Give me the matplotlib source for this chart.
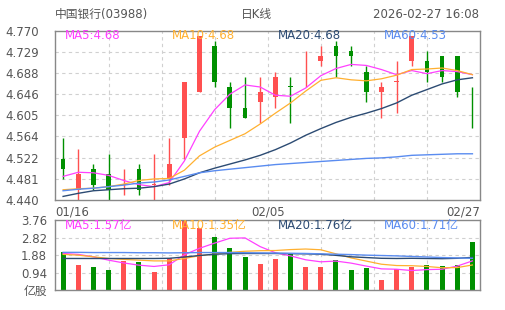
import numpy as np
import matplotlib
matplotlib.use("Agg")
import matplotlib.pyplot as plt

plt.rcParams['font.family'] = ['DejaVu Sans', 'Noto Sans CJK SC']

# 日K数据 (01/16 - 02/27)
opens = [4.52, 4.46, 4.50, 4.49, 4.47, 4.50, 4.47, 4.48, 4.56, 4.65, 4.74, 4.66, 4.62, 4.63,
         4.64, 4.66, 4.70, 4.71, 4.74, 4.73, 4.69, 4.65, 4.67, 4.71, 4.71, 4.72, 4.72, 4.64]
closes = [4.50, 4.49, 4.47, 4.46, 4.47, 4.46, 4.47, 4.51, 4.67, 4.76, 4.67, 4.62, 4.60, 4.65,
          4.68, 4.66, 4.70, 4.72, 4.72, 4.72, 4.65, 4.66, 4.67, 4.76, 4.69, 4.68, 4.65, 4.64]
highs = [4.56, 4.54, 4.51, 4.53, 4.50, 4.51, 4.53, 4.56, 4.67, 4.76, 4.75, 4.67, 4.68, 4.68,
         4.69, 4.68, 4.73, 4.74, 4.75, 4.74, 4.70, 4.67, 4.71, 4.76, 4.73, 4.72, 4.72, 4.66]
lows = [4.48, 4.44, 4.46, 4.44, 4.45, 4.45, 4.44, 4.47, 4.52, 4.65, 4.66, 4.58, 4.60, 4.59,
        4.62, 4.59, 4.66, 4.70, 4.68, 4.70, 4.63, 4.60, 4.61, 4.70, 4.67, 4.67, 4.64, 4.58]

ma5 = [4.486, 4.494, 4.493, 4.488, 4.478, 4.470, 4.466, 4.474, 4.516, 4.574, 4.616, 4.646, 4.664, 4.660,
       4.644, 4.642, 4.658, 4.682, 4.696, 4.704, 4.702, 4.694, 4.684, 4.692, 4.686, 4.692, 4.690, 4.684]
ma10 = [4.460, 4.462, 4.463, 4.466, 4.471, 4.478, 4.481, 4.482, 4.498, 4.526, 4.543, 4.556, 4.569, 4.588,
        4.609, 4.629, 4.652, 4.673, 4.678, 4.674, 4.672, 4.676, 4.683, 4.694, 4.695, 4.697, 4.692, 4.684]
ma20 = [4.447, 4.453, 4.458, 4.460, 4.462, 4.463, 4.466, 4.471, 4.481, 4.493, 4.502, 4.510, 4.518, 4.527,
        4.538, 4.551, 4.566, 4.579, 4.591, 4.601, 4.609, 4.618, 4.629, 4.644, 4.655, 4.666, 4.674, 4.678]
ma60 = [4.458, 4.461, 4.463, 4.466, 4.469, 4.473, 4.475, 4.479, 4.486, 4.493, 4.497, 4.500, 4.503, 4.506,
        4.509, 4.511, 4.513, 4.515, 4.517, 4.519, 4.521, 4.522, 4.524, 4.527, 4.528, 4.529, 4.530, 4.530]

# 成交量 (亿股)
volumes = [2.06, 1.34, 1.24, 1.08, 1.56, 1.50, 0.97, 1.70, 3.76, 3.33, 2.88, 2.28, 1.80, 1.42,
           1.67, 2.01, 1.25, 1.25, 1.63, 1.09, 1.21, 0.53, 1.15, 1.26, 1.36, 1.30, 1.36, 2.57]
vma5 = [1.97, 1.92, 1.79, 1.61, 1.46, 1.34, 1.27, 1.36, 1.90, 2.25, 2.53, 2.79, 2.81, 2.34,
        2.01, 1.84, 1.63, 1.52, 1.56, 1.45, 1.29, 1.14, 1.12, 1.05, 1.10, 1.12, 1.29, 1.57]
vma10 = [1.92, 1.88, 1.79, 1.70, 1.65, 1.61, 1.57, 1.57, 1.70, 1.85, 1.94, 2.03, 2.09, 2.12,
         2.13, 2.18, 2.21, 2.17, 1.95, 1.73, 1.56, 1.39, 1.32, 1.31, 1.27, 1.20, 1.21, 1.35]
vma20 = [1.70, 1.70, 1.70, 1.70, 1.70, 1.70, 1.70, 1.71, 1.78, 1.86, 1.93, 1.96, 1.97, 1.97,
         1.97, 1.96, 1.95, 1.93, 1.87, 1.79, 1.75, 1.71, 1.70, 1.71, 1.70, 1.69, 1.71, 1.76]
vma60 = [2.03, 2.03, 2.02, 2.02, 2.02, 2.01, 2.01, 2.00, 2.01, 2.02, 2.02, 2.02, 2.01, 2.00,
         1.99, 1.98, 1.97, 1.95, 1.93, 1.91, 1.88, 1.86, 1.84, 1.81, 1.78, 1.75, 1.73, 1.71]

price_ticks = [4.440, 4.481, 4.522, 4.564, 4.605, 4.646, 4.688, 4.729, 4.770]
vol_ticks = [0, 0.94, 1.88, 2.82, 3.76]
vol_tick_labels = ['亿股', '0.94', '1.88', '2.82', '3.76']
date_labels = ['01/16', '02/05', '02/27']

RED = '#ff5050'
GREEN = '#009000'
C_MA5 = '#ff40ff'
C_MA10 = '#ffb030'
C_MA20 = '#2c4b73'
C_MA60 = '#5a8cf0'
TXT = '#555555'

n = len(closes)
x = np.arange(n)
colors = []
for i in range(n):
    if closes[i] > opens[i]:
        colors.append(RED)
    elif closes[i] < opens[i]:
        colors.append(GREEN)
    else:
        prev = closes[i - 1] if i > 0 else opens[i]
        colors.append(RED if closes[i] >= prev else GREEN)

fig = plt.figure(figsize=(5.05, 3.10), dpi=100)
ax = fig.add_axes([0.1099, 0.3548, 0.8406, 0.5468])
axv = fig.add_axes([0.1099, 0.0645, 0.8406, 0.2249])

for a in (ax, axv):
    a.set_xlim(-0.5, n - 0.5)
    for s in a.spines.values():
        s.set_color('#888888')
        s.set_linewidth(1.0)
    a.tick_params(length=0, labelsize=8.5, colors=TXT)
    a.set_xticks([])
    # vertical dashed grid at eighths of the width
    for k in range(1, 8):
        a.axvline(-0.5 + n * k / 8, color='#d0d0d0', linewidth=0.8, linestyle=(0, (3, 3)), zorder=0)

# K线
ax.set_ylim(4.44, 4.77)
ax.set_yticks(price_ticks)
ax.set_yticklabels(['%.3f' % t for t in price_ticks])
ax.tick_params(axis='y', pad=12)
for t in price_ticks[1:-1]:
    ax.axhline(t, color='#d0d0d0', linewidth=0.8, linestyle=(0, (3, 3)), zorder=0)

ax.vlines(x, lows, highs, colors=colors, linewidth=1.0, zorder=2)
bottoms = np.minimum(opens, closes)
heights = np.maximum(np.abs(np.array(closes) - np.array(opens)), 0.0012)
ax.bar(x, heights, bottom=bottoms, width=0.31, color=colors, linewidth=0, zorder=3)

ax.plot(x, ma5, color=C_MA5, linewidth=0.9, zorder=4)
ax.plot(x, ma10, color=C_MA10, linewidth=0.9, zorder=4)
ax.plot(x, ma20, color=C_MA20, linewidth=1.0, zorder=4)
ax.plot(x, ma60, color=C_MA60, linewidth=1.0, zorder=4)

labels = [('MA5:%.2f' % ma5[-1], C_MA5), ('MA10:%.2f' % ma10[-1], C_MA10),
          ('MA20:%.2f' % ma20[-1], C_MA20), ('MA60:%.2f' % ma60[-1], C_MA60)]
for k, (s, c) in enumerate(labels):
    ax.text(0.023 + 0.25 * k, 0.972, s, transform=ax.transAxes, color=c, fontsize=8.5,
            ha='left', va='center', zorder=6)

# 日期
ax.text(0.0, -0.03, date_labels[0], transform=ax.transAxes, ha='left', va='top', fontsize=8.5, color=TXT)
ax.text(0.5, -0.03, date_labels[1], transform=ax.transAxes, ha='center', va='top', fontsize=8.5, color=TXT)
ax.text(1.0, -0.03, date_labels[2], transform=ax.transAxes, ha='right', va='top', fontsize=8.5, color=TXT)

# 成交量
axv.set_ylim(0, 3.76)
axv.set_yticks(vol_ticks)
axv.set_yticklabels(vol_tick_labels)
axv.tick_params(axis='y', pad=6)
for t in vol_ticks[1:-1]:
    axv.axhline(t, color='#d0d0d0', linewidth=0.8, linestyle=(0, (3, 3)), zorder=0)
axv.bar(x, volumes, width=0.33, color=colors, linewidth=0, zorder=2)
axv.plot(x, vma5, color=C_MA5, linewidth=0.9, zorder=4)
axv.plot(x, vma10, color=C_MA10, linewidth=0.9, zorder=4)
axv.plot(x, vma20, color=C_MA20, linewidth=1.0, zorder=4)
axv.plot(x, vma60, color=C_MA60, linewidth=1.0, zorder=4)

vlabels = [('MA5:%.2f亿' % vma5[-1], C_MA5), ('MA10:%.2f亿' % vma10[-1], C_MA10),
           ('MA20:%.2f亿' % vma20[-1], C_MA20), ('MA60:%.2f亿' % vma60[-1], C_MA60)]
for k, (s, c) in enumerate(vlabels):
    axv.text(0.023 + 0.25 * k, 0.93, s, transform=axv.transAxes, color=c, fontsize=8.5,
             ha='left', va='center', zorder=6)

# 标题
fig.text(55 / 505, 1 - 14.5 / 310, '中国银行(03988)', ha='left', va='center', fontsize=8.5, color=TXT)
fig.text(256 / 505, 1 - 14.5 / 310, '日K线', ha='center', va='center', fontsize=8.5, color=TXT)
fig.text(479 / 505, 1 - 14.5 / 310, '2026-02-27 16:08', ha='right', va='center', fontsize=8.5, color=TXT)

fig.savefig('out.png', dpi=100)
